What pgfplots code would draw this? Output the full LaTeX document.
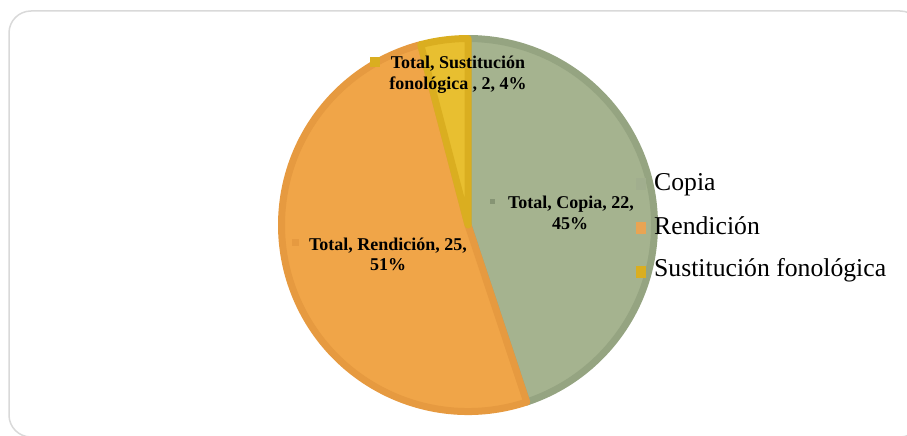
\documentclass[border=0pt]{standalone}
\usepackage{pgfplots}
\pgfplotsset{compat=1.18}
\usepackage{pgfplotstable}
\usepackage{fontspec}
\setmainfont{Liberation Serif}
\definecolor{copiaF}{HTML}{A5B38F}
\definecolor{copiaD}{HTML}{95A481}
\definecolor{rendF}{HTML}{F0A548}
\definecolor{rendD}{HTML}{E69A40}
\definecolor{sustF}{HTML}{E8BF30}
\definecolor{sustD}{HTML}{DAAE20}
\definecolor{frameC}{HTML}{D9D9D9}

\pgfplotstableread{
cat value
Copia 22
Rendicion 25
Sustitucion 2
}\piedata

\begin{document}
\begin{tikzpicture}
\pgfplotstablegetelem{0}{value}\of\piedata \edef\va{\pgfplotsretval}
\pgfplotstablegetelem{1}{value}\of\piedata \edef\vb{\pgfplotsretval}
\pgfplotstablegetelem{2}{value}\of\piedata \edef\vc{\pgfplotsretval}
\pgfmathsetmacro\tot{\va+\vb+\vc}
\pgfmathsetmacro\aA{90}
\pgfmathsetmacro\aB{\aA-360*\va/\tot}
\pgfmathsetmacro\aC{\aB-360*\vb/\tot}
\pgfmathsetmacro\aD{\aC-360*\vc/\tot}
\useasboundingbox (0,0) rectangle (907pt,436pt);
\begin{axis}[x=1pt,y=1pt,xmin=0,xmax=907,ymin=0,ymax=436,y dir=reverse,
  hide axis,scale only axis,clip=false,anchor=south west,at={(0,0)}]
% frame
\draw[frameC,line width=1.5pt,rounded corners=22pt] (axis cs:9,11) rectangle (axis cs:922,437);
% slices
\coordinate (c) at (axis cs:468,225);
\filldraw[fill=copiaF,draw=copiaD,line width=7pt,line join=round]
  (c) -- ++(\aA:186.5pt) arc[start angle=\aA,end angle=\aB,radius=186.5pt] -- cycle;
\filldraw[fill=rendF,draw=rendD,line width=7pt,line join=round]
  (c) -- ++(\aB:186.5pt) arc[start angle=\aB,end angle=\aC,radius=186.5pt] -- cycle;
\filldraw[fill=sustF,draw=sustD,line width=7pt,line join=round]
  (c) -- ++(\aC:186.5pt) arc[start angle=\aC,end angle=\aD,radius=186.5pt] -- cycle;
% label markers
\fill[copiaD!90!black] (axis cs:489.5,198.5) rectangle (axis cs:494.5,203.5);
\fill[rendD] (axis cs:292,239) rectangle (axis cs:299,246);
\fill[sustD] (axis cs:369.5,57) rectangle (axis cs:379.5,67);
% labels
\begin{scope}[every node/.style={inner sep=0pt,anchor=base,font=\fontsize{18}{21}\selectfont\bfseries}]
\node at (axis cs:571,208) {Total, Copia, 22,};
\node at (axis cs:570,229) {45\%};
\node at (axis cs:388,250.5) {Total, Rendición, 25,};
\node at (axis cs:388,270) {51\%};
\node at (axis cs:458,68) {Total, Sustitución};
\node at (axis cs:458,89) {fonológica , 2, 4\%};
\end{scope}
% legend
\fill[copiaF!90!gray] (axis cs:636,178) rectangle (axis cs:646,190);
\fill[rendD!90!white] (axis cs:636,222) rectangle (axis cs:646,234);
\fill[sustD] (axis cs:636,266) rectangle (axis cs:646,278);
\begin{scope}[every node/.style={inner sep=0pt,anchor=base west,font=\fontsize{25.7}{30}\selectfont}]
\node at (axis cs:654,190) {Copia};
\node at (axis cs:654,234) {Rendición};
\node at (axis cs:654,276.5) {Sustitución fonológica};
\end{scope}
\end{axis}
\end{tikzpicture}
\end{document}
